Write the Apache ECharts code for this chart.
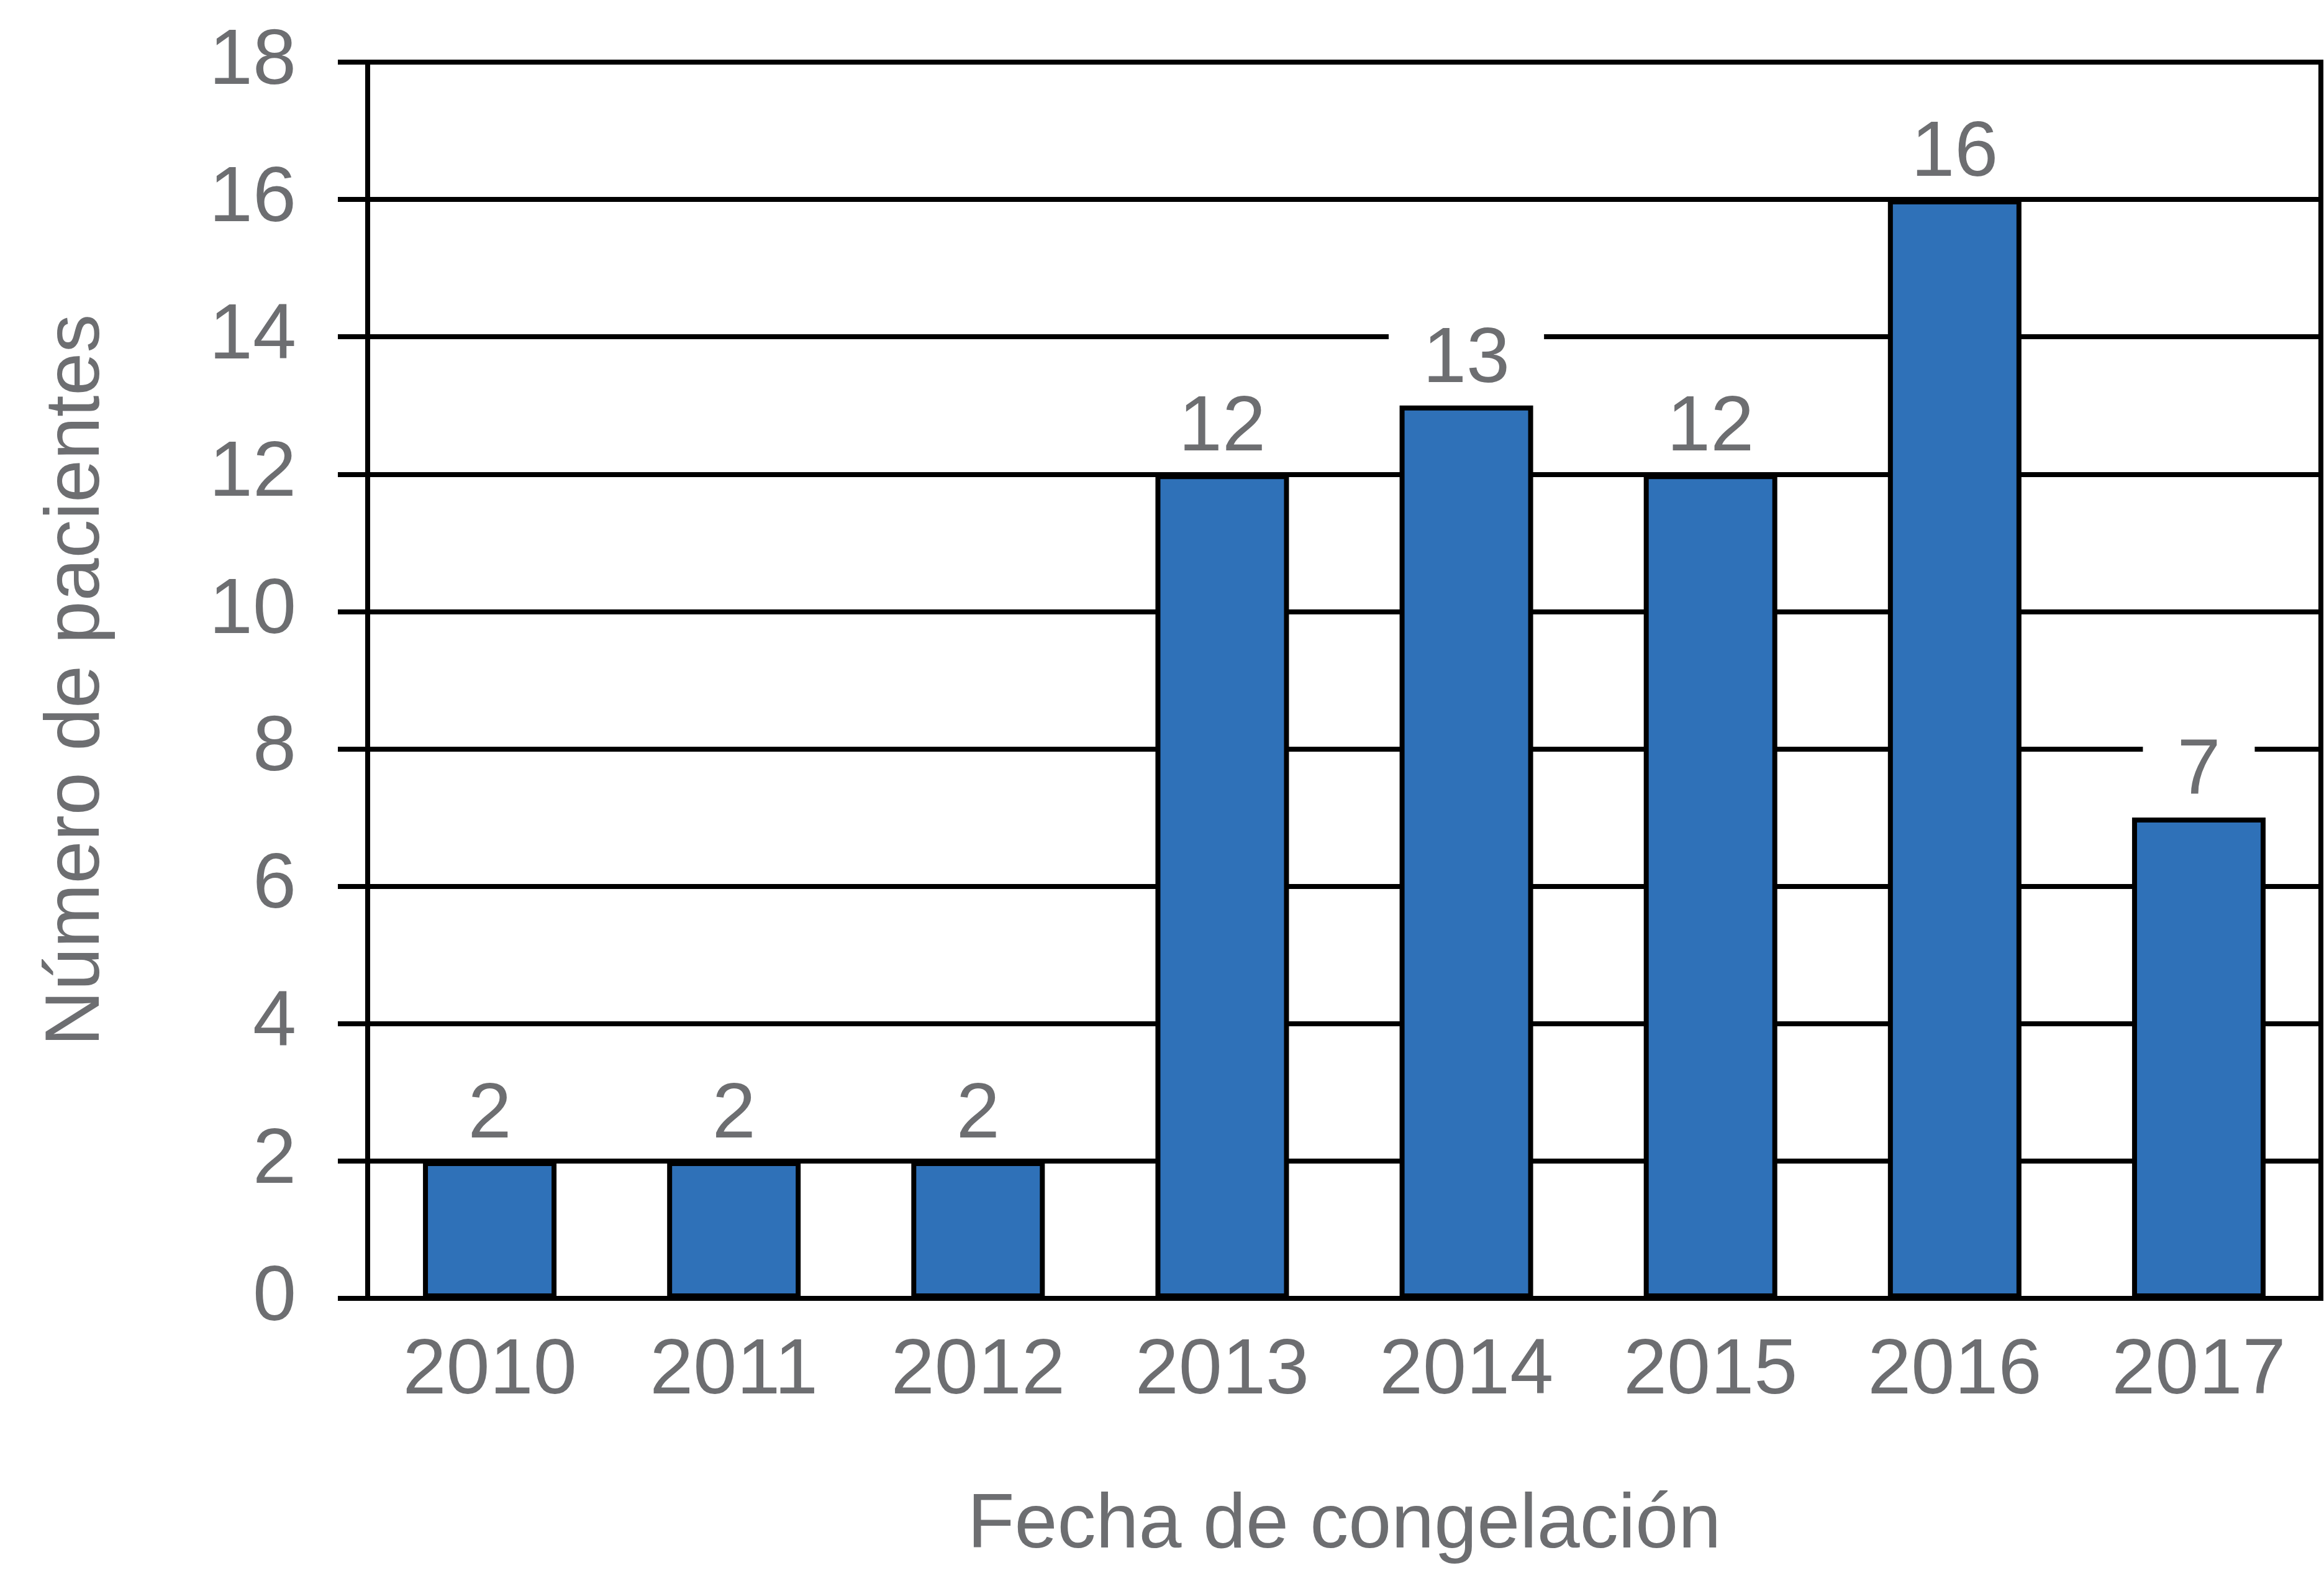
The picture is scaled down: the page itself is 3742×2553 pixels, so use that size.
<!DOCTYPE html>
<html>
<head>
<meta charset="utf-8">
<script src="https://cdn.jsdelivr.net/npm/echarts@6/dist/echarts.min.js"></script>
<style>
html,body{margin:0;padding:0;background:#fff;}
#chart{width:3742px;height:2553px;}
</style>
</head>
<body>
<div id="chart"></div>
<script>
const categories = ['2010','2011','2012','2013','2014','2015','2016','2017'];
const pacientes = [2, 2, 2, 12, 13, 12, 16, 7];
const yTicks = { min: 0, max: 18, interval: 2 };
const xTitle = 'Fecha de congelación';
const yTitle = 'Número de pacientes';

const FONT = "'Liberation Sans', Arial, sans-serif";
const GRAY = '#6d6e71';
const chart = echarts.init(document.getElementById('chart'), null, {renderer: 'canvas'});
chart.setOption({
  animation: false,
  backgroundColor: '#ffffff',
  grid: {
    left: 592, right: 5, top: 100, bottom: 463,
    show: true, borderColor: '#000', borderWidth: 8, backgroundColor: 'transparent'
  },
  xAxis: {
    type: 'category',
    data: categories,
    name: xTitle,
    nameLocation: 'middle',
    nameGap: 305,
    nameTextStyle: { fontFamily: FONT, fontSize: 124, color: GRAY },
    axisLine: { show: true, lineStyle: { color: '#000', width: 8 } },
    axisTick: { show: false },
    axisLabel: { interval: 0, fontFamily: FONT, fontSize: 126, color: GRAY, margin: 55 },
    splitLine: { show: false }
  },
  yAxis: {
    type: 'value',
    min: yTicks.min, max: yTicks.max, interval: yTicks.interval,
    name: yTitle,
    nameLocation: 'middle',
    nameRotate: 90,
    nameGap: 405,
    nameTextStyle: { fontFamily: FONT, fontSize: 124, color: GRAY },
    axisLine: { show: true, lineStyle: { color: '#000', width: 8 } },
    axisTick: { show: true, inside: false, length: 48, lineStyle: { color: '#000', width: 8 } },
    axisLabel: { fontFamily: FONT, fontSize: 126, color: GRAY, margin: 115, padding: [14, 0, 0, 0] },
    splitLine: { show: true, lineStyle: { color: '#000', width: 8 } }
  },
  series: [{
    type: 'bar',
    data: pacientes,
    barWidth: 215,
    itemStyle: { color: '#2f71b8', borderColor: '#000', borderWidth: 8 },
    label: {
      show: true,
      position: 'top',
      distance: 10,
      fontFamily: FONT,
      fontSize: 126,
      color: GRAY,
      backgroundColor: '#ffffff',
      padding: [0, 55]
    }
  }]
});
</script>
</body>
</html>
